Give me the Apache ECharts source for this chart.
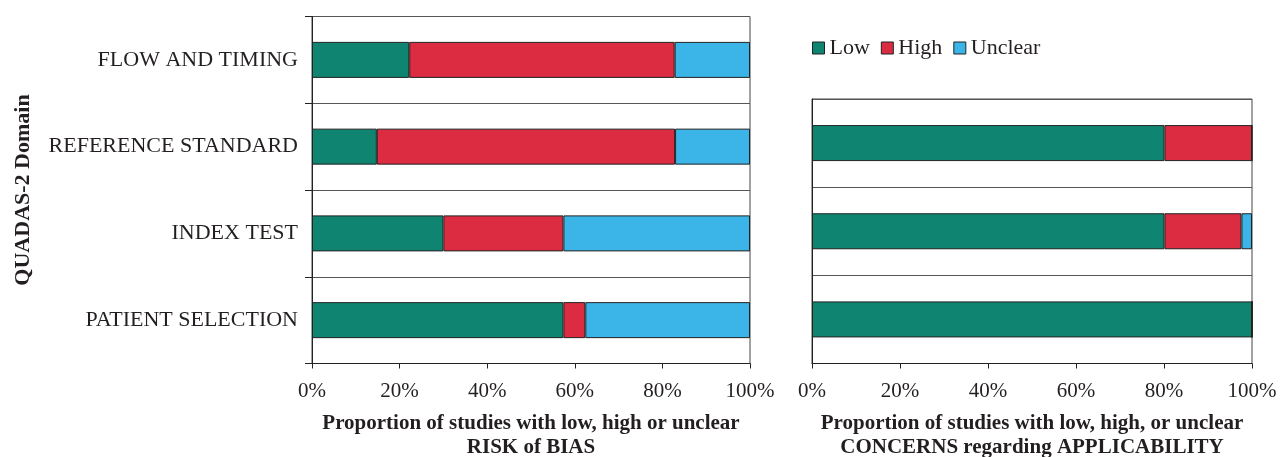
<!DOCTYPE html>
<html>
<head>
<meta charset="utf-8">
<script src="https://cdn.jsdelivr.net/npm/echarts@6/dist/echarts.min.js"></script>
<style>
html,body{margin:0;padding:0;background:#fff;}
#c{width:1281px;height:457px;}
</style>
</head>
<body>
<div id="c"></div>
<script>
const domainsRisk = ['PATIENT SELECTION', 'INDEX TEST', 'REFERENCE STANDARD', 'FLOW AND TIMING'];
const riskLow = [57.4, 30.0, 14.8, 22.2];
const riskHigh = [5.0, 27.4, 68.1, 60.6];
const riskUnclear = [37.6, 42.6, 17.1, 17.2];

const domainsAppl = ['PATIENT SELECTION', 'INDEX TEST', 'REFERENCE STANDARD'];
const applLow = [100, 80.1, 80.1];
const applHigh = [0, 17.5, 19.9];
const applUnclear = [0, 2.4, 0];

const seriesNames = ['Low', 'High', 'Unclear'];
const colors = ['#0F8470', '#DB2C42', '#3BB5E7'];

const FONT = '"Liberation Serif", "DejaVu Serif", serif';
const chart = echarts.init(document.getElementById('c'));

function xAxisCfg(gridIndex, name) {
  return {
    gridIndex: gridIndex, type: 'value', min: 0, max: 100, interval: 20,
    name: name, nameLocation: 'middle', nameGap: 48,
    nameTextStyle: {fontFamily: FONT, fontSize: 21, fontWeight: 'bold', color: '#231F20', lineHeight: 24},
    axisLine: {show: true, lineStyle: {color: '#222', width: 1}},
    axisTick: {show: true, length: 5, lineStyle: {color: '#222'}},
    axisLabel: {fontFamily: FONT, fontSize: 21, color: '#231F20', margin: 17, formatter: '{value}%'},
    splitLine: {show: false}
  };
}

function makeSeries(gi, data) {
  return seriesNames.map((n, i) => ({
    name: n, type: 'bar', stack: 's' + gi, xAxisIndex: gi, yAxisIndex: gi,
    barWidth: 36, data: data[i],
    itemStyle: {color: colors[i], borderColor: '#222', borderWidth: 1},
    emphasis: {disabled: true}
  }));
}

chart.setOption({
  animation: false,
  backgroundColor: '#fff',
  legend: {
    data: seriesNames, left: 807, top: 32, icon: 'rect', itemWidth: 12, itemHeight: 12, itemGap: 11,
    textStyle: {fontFamily: FONT, fontSize: 22, color: '#231F20'},
    itemStyle: {borderColor: '#222', borderWidth: 1}
  },
  grid: [
    {left: 312, width: 438, top: 16.5, height: 347, containLabel: false, outerBoundsMode: 'none', show: true, borderColor: '#444', borderWidth: 1, backgroundColor: 'transparent'},
    {left: 812, width: 440, top: 99, height: 264.5, containLabel: false, outerBoundsMode: 'none', show: true, borderColor: '#444', borderWidth: 1, backgroundColor: 'transparent'}
  ],
  xAxis: [
    xAxisCfg(0, 'Proportion of studies with low, high or unclear\nRISK of BIAS'),
    xAxisCfg(1, 'Proportion of studies with low, high, or unclear\nCONCERNS regarding APPLICABILITY')
  ],
  yAxis: [
    {
      gridIndex: 0, type: 'category', data: domainsRisk,
      name: 'QUADAS-2 Domain', nameLocation: 'middle', nameGap: 278, nameRotate: 90,
      nameTextStyle: {fontFamily: FONT, fontSize: 22, fontWeight: 'bold', color: '#231F20'},
      axisLine: {show: true, lineStyle: {color: '#222'}},
      axisTick: {show: true, length: 7, lineStyle: {color: '#222'}},
      axisLabel: {fontFamily: FONT, fontSize: 22, color: '#231F20', margin: 14},
      splitLine: {show: true, lineStyle: {color: '#555', width: 1}}
    },
    {
      gridIndex: 1, type: 'category', data: domainsAppl,
      axisLine: {show: true, lineStyle: {color: '#222'}},
      axisTick: {show: false},
      axisLabel: {show: false},
      splitLine: {show: true, lineStyle: {color: '#555', width: 1}}
    }
  ],
  series: [
    ...makeSeries(0, [riskLow, riskHigh, riskUnclear]),
    ...makeSeries(1, [applLow, applHigh, applUnclear])
  ]
});
</script>
</body>
</html>
